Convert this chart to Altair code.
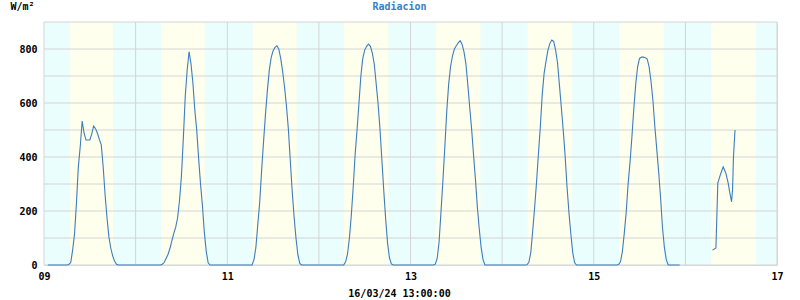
import json
import altair as alt
import pandas as pd

# ---- data (W/m2), half-hourly from 06:00 to 19:30 ----
day_numbers = [9, 10, 11, 12, 13, 14, 15]
rad_09 = [0, 2, 9, 55, 115, 230, 365, 440, 533, 488, 463, 463, 463, 485, 515, 505, 488, 465, 445, 364, 260, 175, 104, 62, 33, 14, 3, 0]
rad_10 = [0, 0, 3, 10, 25, 40, 62, 90, 117, 140, 175, 240, 330, 470, 625, 722, 790, 745, 675, 574, 500, 395, 300, 220, 120, 50, 8, 0]
rad_11 = [0, 0, 20, 65, 150, 232, 350, 455, 555, 645, 720, 768, 793, 806, 812, 800, 765, 718, 660, 590, 505, 390, 275, 180, 100, 38, 6, 0]
rad_12 = [0, 0, 12, 40, 100, 185, 290, 410, 500, 599, 700, 765, 796, 810, 818, 810, 785, 745, 672, 599, 505, 390, 275, 170, 80, 25, 4, 0]
rad_13 = [0, 3, 25, 88, 200, 315, 440, 570, 670, 735, 775, 800, 812, 823, 831, 818, 790, 747, 670, 585, 505, 410, 320, 217, 135, 65, 20, 0]
rad_14 = [0, 1, 10, 45, 125, 210, 304, 410, 510, 630, 710, 755, 796, 820, 833, 828, 797, 750, 668, 585, 500, 405, 290, 195, 115, 45, 8, 0]
rad_15 = [0, 2, 12, 50, 118, 195, 300, 380, 475, 580, 670, 735, 765, 770, 770, 768, 763, 734, 680, 610, 513, 430, 345, 250, 140, 65, 20, 0]
day_series = [rad_09, rad_10, rad_11, rad_12, rad_13, rad_14, rad_15]
slot_hours = [6.0 + 0.5 * i for i in range(28)]

# first reading (09th 01:00) and last night reading of the 15th (22:30)
first_hour, first_value = 1.0, 0
last_night_hour, last_night_value = 22.5, 0

# 16th (after the gap), hours and values
hours_16 = [7.1, 8.0, 8.5, 9.3, 9.9, 10.6, 11.2, 11.65, 12.1, 12.35, 12.6, 13.0]
rad_16 = [55, 63, 304, 340, 364, 340, 304, 267, 234, 277, 401, 500]

# daylight bands (sunrise / sunset hour) for days 09..16
sunrise = [6.8, 6.7, 6.65, 6.6, 6.6, 6.7, 6.65, 6.75]
sunset = [18.1, 18.1, 18.2, 18.2, 18.3, 18.35, 18.3, 18.4]

x_labels = ["09", "11", "13", "15", "17"]
y_ticks = [0, 200, 400, 600, 800]

# ---- build tables ----
rows = [{"t": first_hour, "v": first_value, "seg": 0}]
for i, vals in enumerate(day_series):
    for h, v in zip(slot_hours, vals):
        rows.append({"t": i * 24 + h, "v": v, "seg": 0})
rows.append({"t": 6 * 24 + last_night_hour, "v": last_night_value, "seg": 0})
for h, v in zip(hours_16, rad_16):
    rows.append({"t": 7 * 24 + h, "v": v, "seg": 1})
df = pd.DataFrame(rows)

bands_df = pd.DataFrame({
    "a": [i * 24 + r for i, r in enumerate(sunrise)],
    "b": [i * 24 + s for i, s in enumerate(sunset)],
    "y0": [0] * len(sunrise),
    "y1": [900] * len(sunrise),
})
night_df = pd.DataFrame({"a": [0], "b": [192], "y0": [0], "y1": [900]})
vgrid_df = pd.DataFrame({"t": [i * 24 for i in range(9)]})
hgrid_df = pd.DataFrame({"v": [i * 100 for i in range(10)]})

FONT = "DejaVu Sans Mono"
BLUE = "#3b7ebf"
GRID = "#d4d4d4"
NIGHT = "#EAFEFE"
DAY = "#FEFFEC"

x_scale = alt.Scale(domain=[0, 192], nice=False, zero=False)
y_scale = alt.Scale(domain=[0, 900], nice=False)

label_expr = "datum.value % 48 == 0 ? " + json.dumps(x_labels) + "[datum.value / 48] : ''"
x_axis = alt.Axis(
    orient="bottom",
    values=[i * 24 for i in range(9)], labelExpr=label_expr, grid=False, ticks=False,
    domain=False, labelFont=FONT, labelFontSize=10, labelFontWeight="bold",
    labelColor="black", labelPadding=6, title="16/03/24 13:00:00",
    titleFont=FONT, titleFontSize=10, titleFontWeight="bold", titleColor="black",
    titleX=355, titleY=31, titleAlign="center", titleBaseline="alphabetic",
    labelFlush=False, labelOverlap=False,
)
# top axis carries only the chart title "Radiacion"
top_axis = alt.Axis(
    orient="top", labels=False, ticks=False, domain=False, grid=False,
    title="Radiacion", titleFont=FONT, titleFontSize=10, titleFontWeight="bold",
    titleColor=BLUE, titleX=355, titleY=-13, titleAlign="center",
    titleBaseline="alphabetic",
)
y_axis = alt.Axis(
    values=y_ticks, grid=False, ticks=False, domain=False, labelFont=FONT,
    labelFontSize=10, labelFontWeight="bold", labelColor="black", labelPadding=7,
    title="W/m²", titleFont=FONT, titleFontSize=10, titleFontWeight="bold",
    titleColor="black", titleAngle=0, titleX=-34, titleY=-16, titleAlign="left",
    titleBaseline="middle",
)

night = alt.Chart(night_df).mark_rect(color=NIGHT).encode(
    x=alt.X("a:Q", scale=x_scale, axis=None),
    x2="b:Q",
    y=alt.Y("y0:Q", scale=y_scale, axis=y_axis),
    y2="y1:Q",
)
bands = alt.Chart(bands_df).mark_rect(color=DAY).encode(
    x=alt.X("a:Q", scale=x_scale, axis=None),
    x2="b:Q",
    y=alt.Y("y0:Q", scale=y_scale, axis=y_axis),
    y2="y1:Q",
)
vgrid = alt.Chart(vgrid_df).mark_rule(color=GRID, strokeWidth=1).encode(
    x=alt.X("t:Q", scale=x_scale, axis=top_axis)
)
hgrid = alt.Chart(hgrid_df).mark_rule(color=GRID, strokeWidth=1).encode(
    y=alt.Y("v:Q", scale=y_scale, axis=y_axis)
)
line = alt.Chart(df).mark_line(color=BLUE, strokeWidth=1.1).encode(
    x=alt.X("t:Q", scale=x_scale, axis=x_axis),
    y=alt.Y("v:Q", scale=y_scale, axis=y_axis),
    detail="seg:N",
    order="t:Q",
)

chart = alt.layer(night, bands, vgrid, hgrid, line).resolve_axis(x="independent").properties(
    width=733,
    height=243,
    autosize=alt.AutoSizeParams(type="none"),
    padding={"left": 44, "top": 22, "right": 23, "bottom": 35},
).configure_view(stroke=None).configure(background="white")

chart.save("out.html", embed_options={"renderer": "svg", "actions": False})
